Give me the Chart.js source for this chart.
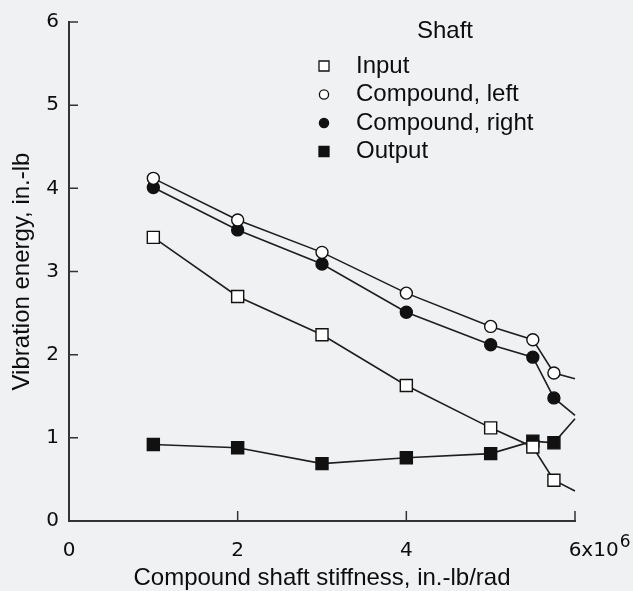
<!DOCTYPE html>
<html>
<head>
<meta charset="utf-8">
<script src="https://cdn.jsdelivr.net/npm/chart.js@4/dist/chart.umd.min.js"></script>
<style>
  html, body { margin: 0; padding: 0; background: #eff1f3; }
  #wrap { width: 633px; height: 591px; }
</style>
</head>
<body>
<div id="wrap"><canvas id="chart"></canvas></div>
<script>
// stiffness, 10^6 in.-lb/rad (last entry is where the curves run off the axis)
const stiffness = [1, 2, 3, 4, 5, 5.5, 5.75, 6];
const inputShaft = [3.41, 2.70, 2.24, 1.63, 1.12, 0.89, 0.49, 0.36];
const compoundLeft = [4.12, 3.62, 3.23, 2.74, 2.34, 2.18, 1.78, 1.71];
const compoundRight = [4.01, 3.50, 3.09, 2.51, 2.12, 1.97, 1.48, 1.27];
const outputShaft = [0.92, 0.88, 0.69, 0.76, 0.81, 0.96, 0.94, 1.23];
const xTicks = [0, 2, 4, 6];
const yTicks = [0, 1, 2, 3, 4, 5, 6];

const ink = '#0d0d0d';
const font = 'Liberation Sans, Arial, Helvetica, sans-serif';
const tickFont = 'DejaVu Sans, sans-serif';

function pts(ys) {
    return stiffness.map((x, i) => ({ x: x, y: ys[i] }));
}
// markers on measured points only, not on the run-off end
const radii = stiffness.map((x, i) => i === stiffness.length - 1 ? 0 : 1);

function series(label, ys, style, fill, r) {
    return {
        label: label,
        data: pts(ys),
        borderColor: '#1e1e1e',
        borderWidth: 1.6,
        pointStyle: style,
        pointBackgroundColor: fill,
        pointBorderColor: '#111',
        pointBorderWidth: 1.4,
        pointRadius: radii.map(v => v * r),
        pointHoverRadius: radii.map(v => v * r),
        tension: 0,
        clip: false
    };
}

// inward tick marks, placed by the scales
const innerTicks = {
    id: 'innerTicks',
    afterDraw(chart) {
        const ctx = chart.ctx;
        const xs = chart.scales.x, ys = chart.scales.y;
        const a = chart.chartArea;
        ctx.save();
        ctx.strokeStyle = '#333';
        ctx.lineWidth = 1.5;
        ctx.beginPath();
        xTicks.forEach(v => {
            if (v === 0) return;
            const px = xs.getPixelForValue(v);
            ctx.moveTo(px, a.bottom);
            ctx.lineTo(px, a.bottom - 10);
        });
        yTicks.forEach(v => {
            if (v === 0) return;
            const py = ys.getPixelForValue(v);
            ctx.moveTo(a.left, py);
            ctx.lineTo(a.left + 9, py);
        });
        ctx.stroke();

        // "x10^6" after the last x label
        const last = xTicks[xTicks.length - 1];
        const px = xs.getPixelForValue(last);
        const py = a.bottom + 30;
        ctx.fillStyle = ink;
        ctx.textBaseline = 'middle';
        ctx.textAlign = 'left';
        ctx.font = '20px ' + tickFont;
        const w = ctx.measureText(String(last)).width;
        ctx.fillText('x10', px + w / 2, py);
        const w2 = ctx.measureText('x10').width;
        ctx.font = '17px ' + tickFont;
        ctx.fillText('6', px + w / 2 + w2 + 1, py - 8);
        ctx.restore();
    }
};

// "Shaft" key drawn from the datasets
const shaftKey = {
    id: 'shaftKey',
    afterDraw(chart) {
        const ctx = chart.ctx;
        ctx.save();
        ctx.fillStyle = ink;
        ctx.font = '24px ' + font;
        ctx.textBaseline = 'middle';
        ctx.textAlign = 'center';
        ctx.fillText('Shaft', 445, 31);
        ctx.textAlign = 'left';
        chart.data.datasets.forEach((ds, i) => {
            const y = 66 + i * 28.5;
            const x = 324;
            ctx.fillText(ds.label, 356, y);
            ctx.beginPath();
            if (ds.pointStyle === 'rect') {
                ctx.rect(x - 5, y - 5, 10, 10);
            } else {
                ctx.arc(x, y, 4.6, 0, Math.PI * 2);
            }
            ctx.fillStyle = ds.pointBackgroundColor;
            ctx.fill();
            ctx.strokeStyle = '#111';
            ctx.lineWidth = 1.3;
            ctx.stroke();
            ctx.fillStyle = ink;
        });
        ctx.restore();
    }
};

const bgFill = {
    id: 'bgFill',
    beforeDraw(chart) {
        const ctx = chart.ctx;
        ctx.save();
        ctx.fillStyle = '#eff1f3';
        ctx.fillRect(0, 0, chart.width, chart.height);
        ctx.restore();
    }
};

new Chart(document.getElementById('chart').getContext('2d'), {
    type: 'line',
    data: {
        datasets: [
            series('Input', inputShaft, 'rect', '#ffffff', 8.5),
            series('Compound, left', compoundLeft, 'circle', '#ffffff', 6),
            series('Compound, right', compoundRight, 'circle', '#111111', 6),
            series('Output', outputShaft, 'rect', '#111111', 8.5)
        ]
    },
    options: {
        responsive: true,
        maintainAspectRatio: false,
        animation: false,
        layout: { padding: { left: 0, top: 15, right: 58, bottom: 0 } },
        plugins: {
            legend: { display: false },
            tooltip: { enabled: false }
        },
        scales: {
            x: {
                type: 'linear',
                min: 0,
                max: 6,
                afterFit: s => { s.height = 70; },
                afterBuildTicks: s => { s.ticks = xTicks.map(v => ({ value: v })); },
                grid: { display: true, drawOnChartArea: false, drawTicks: false },
                border: { display: true, color: '#333', width: 2 },
                ticks: {
                    padding: 18,
                    color: ink,
                    font: { family: tickFont, size: 20 },
                    maxRotation: 0,
                    callback: v => String(v)
                },
                title: {
                    display: true,
                    text: 'Compound shaft stiffness, in.-lb/rad',
                    color: ink,
                    font: { family: font, size: 24 },
                    padding: { top: 0, bottom: -2 }
                }
            },
            y: {
                type: 'linear',
                min: 0,
                max: 6,
                afterFit: s => { s.width = 69; },
                afterBuildTicks: s => { s.ticks = yTicks.map(v => ({ value: v })); },
                grid: { display: true, drawOnChartArea: false, drawTicks: false },
                border: { display: true, color: '#333', width: 2 },
                ticks: {
                    padding: 10,
                    color: ink,
                    font: { family: tickFont, size: 20 }
                },
                title: {
                    display: true,
                    text: 'Vibration energy, in.-lb',
                    color: ink,
                    font: { family: font, size: 24 },
                    padding: { top: 8, bottom: 0 }
                }
            }
        }
    },
    plugins: [bgFill, innerTicks, shaftKey]
});
</script>
</body>
</html>
